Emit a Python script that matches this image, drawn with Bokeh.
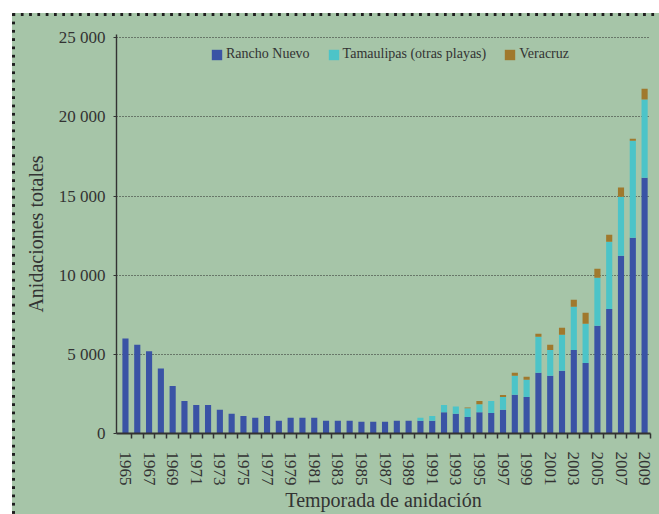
from bokeh.plotting import figure
from bokeh.models import ColumnDataSource, FixedTicker, Range1d
from bokeh.embed import file_html
from bokeh.resources import INLINE

years = [1965, 1966, 1967, 1968, 1969, 1970, 1971, 1972, 1973, 1974,
         1975, 1976, 1977, 1978, 1979, 1980, 1981, 1982, 1983, 1984,
         1985, 1986, 1987, 1988, 1989, 1990, 1991, 1992, 1993, 1994,
         1995, 1996, 1997, 1998, 1999, 2000, 2001, 2002, 2003, 2004,
         2005, 2006, 2007, 2008, 2009]

rancho_nuevo = [6000, 5600, 5200, 4100, 3000, 2050, 1800, 1800, 1500, 1250,
                1100, 1000, 1100, 800, 1000, 1000, 1000, 800, 800, 800,
                750, 750, 750, 800, 800, 800, 800, 1350, 1250, 1050,
                1350, 1300, 1500, 2440, 2310, 3830, 3640, 3960, 5280, 4460,
                6800, 7870, 11230, 12370, 16150]

tamaulipas = [0, 0, 0, 0, 0, 0, 0, 0, 0, 0,
              0, 0, 0, 0, 0, 0, 0, 0, 0, 0,
              0, 0, 0, 0, 0, 200, 300, 450, 450, 550,
              500, 750, 800, 1200, 1080, 2280, 1640, 2270, 2720, 2470,
              3040, 4240, 3730, 6120, 4940]

veracruz = [0, 0, 0, 0, 0, 0, 0, 0, 0, 0,
            0, 0, 0, 0, 0, 0, 0, 0, 0, 0,
            0, 0, 0, 0, 0, 0, 0, 0, 0, 40,
            200, 0, 130, 190, 190, 190, 320, 450, 450, 690,
            560, 440, 570, 130, 690]

series_names = ["Rancho Nuevo", "Tamaulipas (otras playas)", "Veracruz"]
series_colors = ["#3a53a5", "#4cc4c8", "#a0792d"]

y_ticks = [0, 5000, 10000, 15000, 20000, 25000]
y_tick_labels = ["0", "5 000", "10 000", "15 000", "20 000", "25 000"]
x_label_years = [1965, 1967, 1969, 1971, 1973, 1975, 1977, 1979, 1981, 1983,
                 1985, 1987, 1989, 1991, 1993, 1995, 1997, 1999, 2001, 2003,
                 2005, 2007, 2009]

BG = "#a6c5a8"
TXT = "#333333"
FONT = "Liberation Serif"

source = ColumnDataSource(dict(year=years, rn=rancho_nuevo, tm=tamaulipas, vc=veracruz))

p = figure(width=659, height=514, output_backend="svg", toolbar_location=None,
           x_range=Range1d(1964.24, 2009.5), y_range=Range1d(0, 25200),
           min_border_left=116, min_border_top=34, min_border_right=9,
           min_border_bottom=81)

p.vbar_stack(["rn", "tm", "vc"], x="year", width=0.52, source=source,
             color=series_colors, line_color=None, legend_label=series_names)

p.background_fill_color = BG
p.border_fill_alpha = 0
p.outline_line_color = None
p.styles = {
    "background-color": BG,
    "background-image": (
        "linear-gradient(#ffffff,#ffffff), "
        "linear-gradient(#ffffff,#ffffff), "
        "linear-gradient(90deg, #1e1e1e 2.6px, transparent 2.6px), "
        "linear-gradient(180deg, #1e1e1e 2.6px, transparent 2.6px)"
    ),
    "background-position": "0px 0px, 0px 0px, 12.5px 13px, 12px 13.3px",
    "background-size": "100% 13px, 12px 100%, 8.3px 2.6px, 2.6px 8.3px",
    "background-repeat": "no-repeat, no-repeat, repeat-x, repeat-y",
}

# x axis
xa = p.xaxis[0]
xa.ticker = FixedTicker(ticks=x_label_years, minor_ticks=[y + 0.5 for y in years])
xa.major_label_orientation = "vertical"
xa.major_tick_out = 0
xa.major_tick_in = 0
xa.minor_tick_out = 5
xa.minor_tick_in = 0
xa.minor_tick_line_color = TXT
xa.minor_tick_line_width = 1.5
xa.axis_line_color = TXT
xa.axis_line_width = 2
xa.major_label_standoff = 13
xa.major_label_text_font = FONT
xa.major_label_text_font_size = "17px"
xa.major_label_text_color = TXT
xa.axis_label = "Temporada de anidación"
xa.axis_label_text_font = FONT
xa.axis_label_text_font_size = "20px"
xa.axis_label_text_font_style = "normal"
xa.axis_label_text_color = TXT
xa.axis_label_standoff = 0

# y axis
ya = p.yaxis[0]
ya.ticker = FixedTicker(ticks=y_ticks, minor_ticks=[])
ya.major_label_overrides = {t: l for t, l in zip(y_ticks, y_tick_labels)}
ya.major_tick_out = 3
ya.major_tick_in = 0
ya.major_tick_line_color = TXT
ya.minor_tick_out = 0
ya.minor_tick_in = 0
ya.axis_line_color = TXT
ya.axis_line_width = 1.4
ya.major_label_standoff = 8
ya.major_label_text_font = FONT
ya.major_label_text_font_size = "17px"
ya.major_label_text_color = TXT
ya.axis_label = "Anidaciones totales"
ya.axis_label_text_font = FONT
ya.axis_label_text_font_size = "20px"
ya.axis_label_text_font_style = "normal"
ya.axis_label_text_color = TXT
ya.axis_label_standoff = 9

p.xgrid.grid_line_color = None
p.ygrid.ticker = FixedTicker(ticks=y_ticks[1:])
p.ygrid.grid_line_color = "#2a2a2a"
p.ygrid.grid_line_dash = "1 2"
p.ygrid.grid_line_width = 1

lg = p.legend[0]
lg.orientation = "horizontal"
lg.location = (94, 371)
lg.padding = 0
lg.margin = 0
lg.spacing = 17
lg.glyph_width = 13
lg.glyph_height = 13
lg.label_height = 13
lg.label_standoff = 3
lg.label_text_font = FONT
lg.label_text_font_size = "14px"
lg.label_text_color = TXT
lg.border_line_color = None
lg.background_fill_alpha = 0

open("out.html", "w").write(file_html(p, INLINE))
